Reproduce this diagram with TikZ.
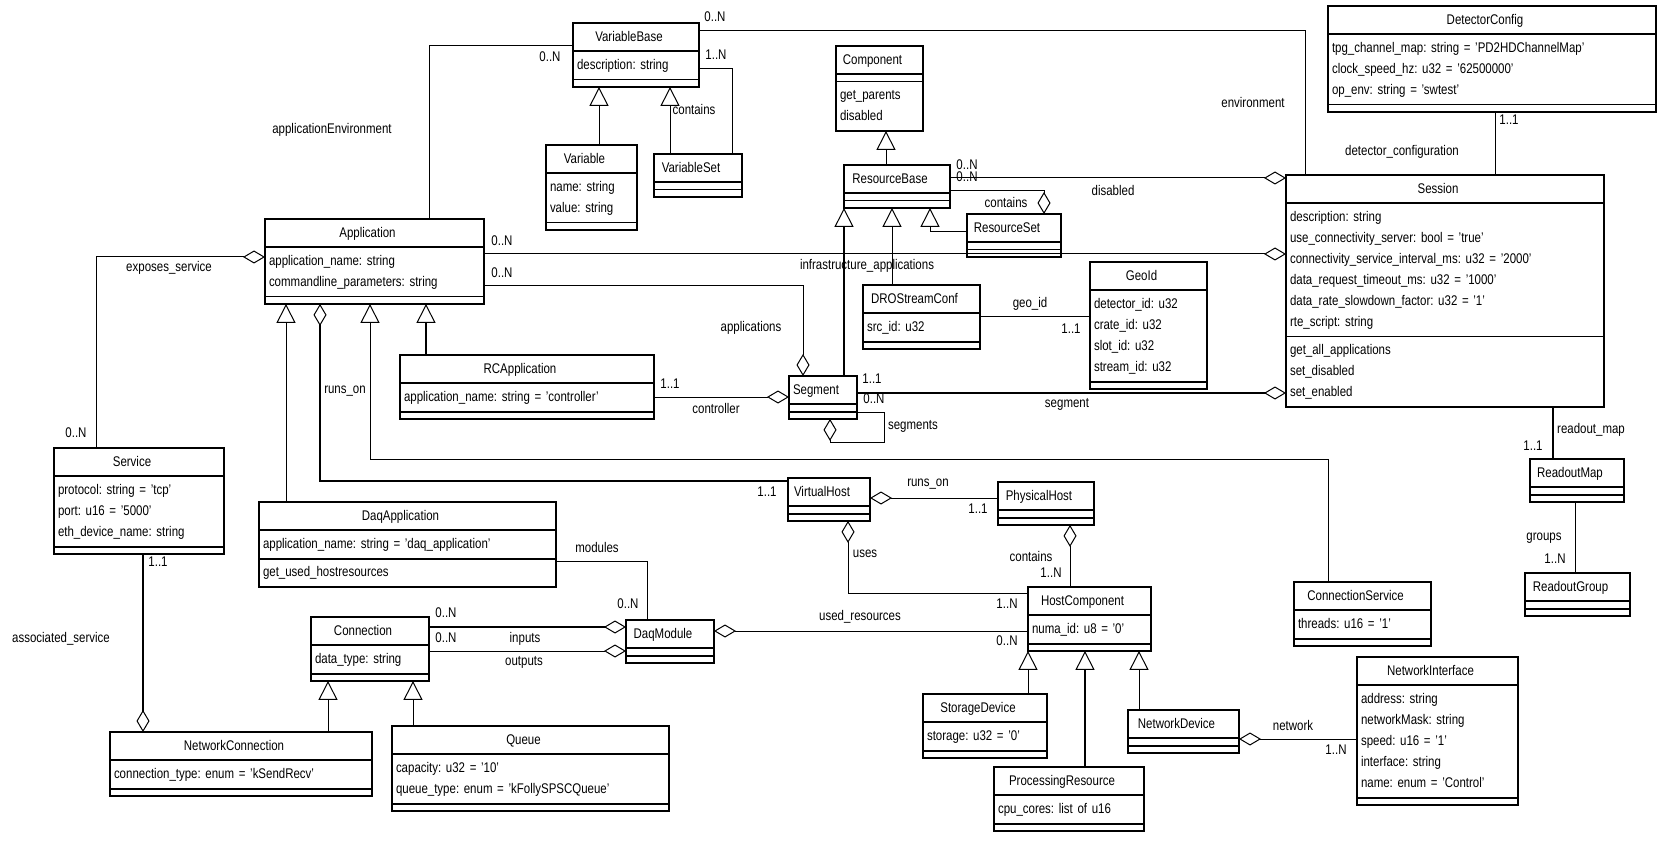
\documentclass[tikz,border=0pt]{standalone}
\usepackage{fontspec}
\setmainfont{Liberation Sans}[FakeStretch=0.82]
\usetikzlibrary{arrows.meta,shapes.multipart}
\newcommand{\umlfont}{\fontsize{14}{21}\selectfont\frenchspacing}
\newcommand{\ctitle}[1]{\centering\strut#1\kern14pt\par}
\tikzset{
  umlclass/.style={draw,line width=1.8pt,rectangle split,rectangle split parts=3,
    rectangle split ignore empty parts=false,
    anchor=north west,inner xsep=4pt,inner ysep=2.75pt,outer sep=0pt,
    font=\umlfont,align=left},
  assoc/.style={line width=1pt},
  assocb/.style={line width=2.2pt},
  aggr/.style={-{Diamond[open,length=22pt,width=13pt,line width=1pt]}},
  inherit/.style={-{Triangle[open,length=19pt,width=19pt,line width=1pt]}},
  lbl/.style={font=\umlfont,inner sep=0pt},
}
\begin{document}
\begin{tikzpicture}[x=1pt,y=-1pt]
\path[use as bounding box,fill=white] (0,0) rectangle (1660,850);

% classes
\node[umlclass,text width=118pt] (VariableBase) at (573,23) {\ctitle{VariableBase}\nodepart{two}\strut description: string\strut\nodepart{three}};
\node[umlclass,text width=83pt] (Variable) at (546,145) {\ctitle{Variable}\nodepart{two}\strut name: string\\ value: string\strut\nodepart{three}};
\node[umlclass,text width=80pt] (VariableSet) at (654,154) {\ctitle{VariableSet}\nodepart{two}\nodepart{three}};
\node[umlclass,text width=79pt] (Component) at (836,46) {\ctitle{Component}\nodepart{two}\nodepart{three}\strut get\_parents\\ disabled\strut};
\node[umlclass,text width=98pt] (ResourceBase) at (844,165) {\ctitle{ResourceBase}\nodepart{two}\nodepart{three}};
\node[umlclass,text width=86pt] (ResourceSet) at (967,214) {\ctitle{ResourceSet}\nodepart{two}\nodepart{three}};
\node[umlclass,text width=320pt] (DetectorConfig) at (1328,6) {\ctitle{DetectorConfig}\nodepart{two}\strut tpg\_channel\_map: string = 'PD2HDChannelMap'\\ clock\_speed\_hz: u32 = '62500000'\\ op\_env: string = 'swtest'\strut\nodepart{three}};
\node[umlclass,text width=310pt] (Session) at (1286,175) {\ctitle{Session}\nodepart{two}\strut description: string\\ use\_connectivity\_server: bool = 'true'\\ connectivity\_service\_interval\_ms: u32 = '2000'\\ data\_request\_timeout\_ms: u32 = '1000'\\ data\_rate\_slowdown\_factor: u32 = '1'\\ rte\_script: string\strut
  \nodepart{three}\strut get\_all\_applications\\ set\_disabled\\ set\_enabled\strut};
\node[umlclass,text width=211pt] (Application) at (265,219) {\ctitle{Application}\nodepart{two}\strut application\_name: string\\ commandline\_parameters: string\strut\nodepart{three}};
\node[umlclass,text width=109pt] (DROStreamConf) at (863,285) {\ctitle{DROStreamConf}\nodepart{two}\strut src\_id: u32\strut\nodepart{three}};
\node[umlclass,text width=109pt] (GeoId) at (1090,262) {\ctitle{GeoId}\nodepart{two}\strut detector\_id: u32\\ crate\_id: u32\\ slot\_id: u32\\ stream\_id: u32\strut\nodepart{three}};
\node[umlclass,text width=246pt] (RCApplication) at (400,355) {\ctitle{RCApplication}\nodepart{two}\strut application\_name: string = 'controller'\strut\nodepart{three}};
\node[umlclass,text width=60pt] (Segment) at (789,376) {\ctitle{Segment}\nodepart{two}\nodepart{three}};
\node[umlclass,text width=162pt] (Service) at (54,448) {\ctitle{Service}\nodepart{two}\strut protocol: string = 'tcp'\\ port: u16 = '5000'\\ eth\_device\_name: string\strut\nodepart{three}};
\node[umlclass,text width=86pt] (ReadoutMap) at (1530,459) {\ctitle{ReadoutMap}\nodepart{two}\nodepart{three}};
\node[umlclass,text width=74pt] (VirtualHost) at (788,478) {\ctitle{VirtualHost}\nodepart{two}\nodepart{three}};
\node[umlclass,text width=88pt] (PhysicalHost) at (998,482) {\ctitle{PhysicalHost}\nodepart{two}\nodepart{three}};
\node[umlclass,text width=289pt] (DaqApplication) at (259,502) {\ctitle{DaqApplication}\nodepart{two}\strut application\_name: string = 'daq\_application'\strut
  \nodepart{three}\strut get\_used\_hostresources\strut};
\node[umlclass,text width=97pt] (ReadoutGroup) at (1525,573) {\ctitle{ReadoutGroup}\nodepart{two}\nodepart{three}};
\node[umlclass,text width=129pt] (ConnectionService) at (1294,582) {\ctitle{ConnectionService}\nodepart{two}\strut threads: u16 = '1'\strut\nodepart{three}};
\node[umlclass,text width=115pt] (HostComponent) at (1028,587) {\ctitle{HostComponent}\nodepart{two}\strut numa\_id: u8 = '0'\strut\nodepart{three}};
\node[umlclass,text width=110pt] (Connection) at (311,617) {\ctitle{Connection}\nodepart{two}\strut data\_type: string\strut\nodepart{three}};
\node[umlclass,text width=80pt] (DaqModule) at (626,620) {\ctitle{DaqModule}\nodepart{two}\nodepart{three}};
\node[umlclass,text width=153pt] (NetworkInterface) at (1357,657) {\ctitle{NetworkInterface}\nodepart{two}\strut address: string\\ networkMask: string\\ speed: u16 = '1'\\ interface: string\\ name: enum = 'Control'\strut\nodepart{three}};
\node[umlclass,text width=116pt] (StorageDevice) at (923,694) {\ctitle{StorageDevice}\nodepart{two}\strut storage: u32 = '0'\strut\nodepart{three}};
\node[umlclass,text width=103pt] (NetworkDevice) at (1128,710) {\ctitle{NetworkDevice}\nodepart{two}\nodepart{three}};
\node[umlclass,text width=269pt] (Queue) at (392,726) {\ctitle{Queue}\nodepart{two}\strut capacity: u32 = '10'\\ queue\_type: enum = 'kFollySPSCQueue'\strut\nodepart{three}};
\node[umlclass,text width=254pt] (NetworkConnection) at (110,732) {\ctitle{NetworkConnection}\nodepart{two}\strut connection\_type: enum = 'kSendRecv'\strut\nodepart{three}};
\node[umlclass,text width=142pt] (ProcessingResource) at (994,767) {\ctitle{ProcessingResource}\nodepart{two}\strut cpu\_cores: list of u16\strut\nodepart{three}};

% inheritance
\draw[assoc,inherit] ([xshift=53pt]Variable.north west) coordinate (p) -- (p |- VariableBase.south);
\draw[assoc,inherit] ([xshift=16pt]VariableSet.north west) coordinate (p) -- (p |- VariableBase.south);
\draw[assoc,inherit] ([xshift=42pt]ResourceBase.north west) coordinate (p) -- (p |- Component.south);
\draw[assoc,inherit] ([yshift=-18pt]ResourceSet.north west) -| ([xshift=86pt]ResourceBase.south west);
\draw[assocb,inherit] ([xshift=55pt]Segment.north west) -- (ResourceBase.south west);
\draw[assoc,inherit] ([xshift=29pt]DROStreamConf.north west) coordinate (p) -- (p |- ResourceBase.south);
\draw[assoc,inherit] ([xshift=27pt]DaqApplication.north west) coordinate (p) -- (p |- Application.south);
\draw[assoc,inherit] ([xshift=34pt]ConnectionService.north west) |- ([xshift=105pt,yshift=-156pt]Application.south west) -- ([xshift=105pt]Application.south west);
\draw[assocb,inherit] ([xshift=26pt]RCApplication.north west) coordinate (p) -- (p |- Application.south);
\draw[assoc,inherit] ([xshift=218pt]NetworkConnection.north west) coordinate (p) -- (p |- Connection.south);
\draw[assoc,inherit] ([xshift=21pt]Queue.north west) coordinate (p) -- (p |- Connection.south);
\draw[assoc,inherit] ([xshift=105pt]StorageDevice.north west) coordinate (p) -- (p |- HostComponent.south);
\draw[assocb,inherit] ([xshift=91pt]ProcessingResource.north west) coordinate (p) -- (p |- HostComponent.south);
\draw[assoc,inherit] ([xshift=11pt]NetworkDevice.north west) coordinate (p) -- (p |- HostComponent.south);

% associations
\draw[assoc] ([xshift=164pt]Application.north west) |- ([yshift=-23pt]VariableBase.north west);
\draw[assoc] ([yshift=-8pt]VariableBase.north east) -| ([xshift=19pt]Session.north west);
\draw[assoc] ([yshift=-46pt]VariableBase.north east) -| ([xshift=78pt]VariableSet.north west);
\draw[assoc,aggr] ([yshift=-26pt]ResourceBase.north east) -| ([xshift=77pt]ResourceSet.north west);
\draw[assoc,aggr] ([yshift=-13pt]ResourceBase.north east) -- ([yshift=-3pt]Session.north west);
\draw[assoc,aggr] ([yshift=-35pt]Application.north east) -- ([yshift=-79pt]Session.north west);
\draw[assoc,aggr] ([yshift=-67pt]Application.north east) -| ([xshift=14pt]Segment.north west);
\draw[assoc] ([yshift=-32pt]DROStreamConf.north east) -- ([yshift=-55pt]GeoId.north west);
\draw[assoc,aggr] ([yshift=-42pt]RCApplication.north east) -- ([yshift=-21pt]Segment.north west);
\draw[assocb,aggr] ([yshift=-17pt]Segment.north east) -- ([yshift=-218pt]Session.north west);
\draw[assoc,aggr] ([yshift=-36pt]Segment.north east) -- ++(27,0) |- ([xshift=41pt,yshift=-24pt]Segment.south west) -- ([xshift=41pt]Segment.south west);
\draw[assoc] ([xshift=167pt]DetectorConfig.south west) coordinate (p) -- (p |- Session.north);
\draw[assocb] ([xshift=267pt]Session.south west) coordinate (p) -- (p |- ReadoutMap.north);
\draw[assoc] ([xshift=45pt]ReadoutMap.south west) coordinate (p) -- (p |- ReadoutGroup.north);
\draw[assoc,aggr] ([xshift=42pt]Service.north west) |- ([yshift=-38pt]Application.north west);
\draw[assocb,aggr] ([xshift=89pt]Service.south west) coordinate (p) -- (p |- NetworkConnection.north);
\draw[assocb,aggr] ([yshift=-3pt]VirtualHost.north west) -| ([xshift=55pt]Application.south west);
\draw[assoc,aggr] ([yshift=-16pt]PhysicalHost.north west) -- ([yshift=-20pt]VirtualHost.north east);
\draw[assoc,aggr] ([yshift=-6pt]HostComponent.north west) -| ([xshift=60pt]VirtualHost.south west);
\draw[assoc,aggr] ([xshift=42pt]HostComponent.north west) coordinate (p) -- (p |- PhysicalHost.south);
\draw[assoc] ([yshift=-59pt]DaqApplication.north east) -| ([xshift=21pt]DaqModule.north west);
\draw[assoc,aggr] ([yshift=-44pt]HostComponent.north west) -- ([yshift=-11pt]DaqModule.north east);
\draw[assocb,aggr] ([yshift=-10pt]Connection.north east) -- ([yshift=-7pt]DaqModule.north west);
\draw[assoc,aggr] ([yshift=-34pt]Connection.north east) -- ([yshift=-31pt]DaqModule.north west);
\draw[assoc,aggr] ([yshift=-82pt]NetworkInterface.north west) -- ([yshift=-29pt]NetworkDevice.north east);

% labels
\node[lbl] (appenvL) at (332,130) {applicationEnvironment};
\node[lbl] (appenvM) at (550,57) {0..N};
\node[lbl] (envM) at (715,17) {0..N};
\node[lbl] (envL) at (1253,102) {environment};
\node[lbl] (vsetM) at (716,55) {1..N};
\node[lbl] (vsetL) at (694,109) {contains};
\node[lbl] (detL) at (1402,152) {detector\_configuration};
\node[lbl] (detM) at (1509,120) {1..1};
\node[lbl] (disM1) at (967,165) {0..N};
\node[lbl] (disM2) at (967,177) {0..N};
\node[lbl] (disL) at (1113,190) {disabled};
\node[lbl] (rsetL) at (1006,202) {contains};
\node[lbl] (expL) at (169,268) {exposes\_service};
\node[lbl] (expM) at (76,433) {0..N};
\node[lbl] (infM) at (502,241) {0..N};
\node[lbl] (infL) at (867,266) {infrastructure\_applications};
\node[lbl] (appsM) at (502,273) {0..N};
\node[lbl] (appsL) at (751,328) {applications};
\node[lbl] (geoL) at (1030,304) {geo\_id};
\node[lbl] (geoM) at (1071,329) {1..1};
\node[lbl] (ctrlM) at (670,384) {1..1};
\node[lbl] (ctrlL) at (716,408) {controller};
\node[lbl] (segM1) at (872,379) {1..1};
\node[lbl] (segM2) at (874,399) {0..N};
\node[lbl] (segL) at (1067,404) {segment};
\node[lbl] (segsL) at (913,426) {segments};
\node[lbl] (runsL) at (345,391) {runs\_on};
\node[lbl] (runsM) at (767,492) {1..1};
\node[lbl] (rmapL) at (1591,430) {readout\_map};
\node[lbl] (rmapM) at (1533,446) {1..1};
\node[lbl] (grpL) at (1544,538) {groups};
\node[lbl] (grpM) at (1555,559) {1..N};
\node[lbl] (vrunsL) at (928,484) {runs\_on};
\node[lbl] (vrunsM) at (978,509) {1..1};
\node[lbl] (modL) at (597,547) {modules};
\node[lbl] (modM) at (628,604) {0..N};
\node[lbl] (usesL) at (865,554) {uses};
\node[lbl] (usesM) at (1007,604) {1..N};
\node[lbl] (hcL) at (1031,556) {contains};
\node[lbl] (hcM) at (1051,573) {1..N};
\node[lbl] (svcM) at (158,562) {1..1};
\node[lbl] (svcL) at (61,639) {associated\_service};
\node[lbl] (resL) at (860,617) {used\_resources};
\node[lbl] (resM) at (1007,641) {0..N};
\node[lbl] (inM) at (446,613) {0..N};
\node[lbl] (inL) at (525,639) {inputs};
\node[lbl] (outM) at (446,638) {0..N};
\node[lbl] (outL) at (524,662) {outputs};
\node[lbl] (netL) at (1293,725) {network};
\node[lbl] (netM) at (1336,750) {1..N};
\end{tikzpicture}
\end{document}
